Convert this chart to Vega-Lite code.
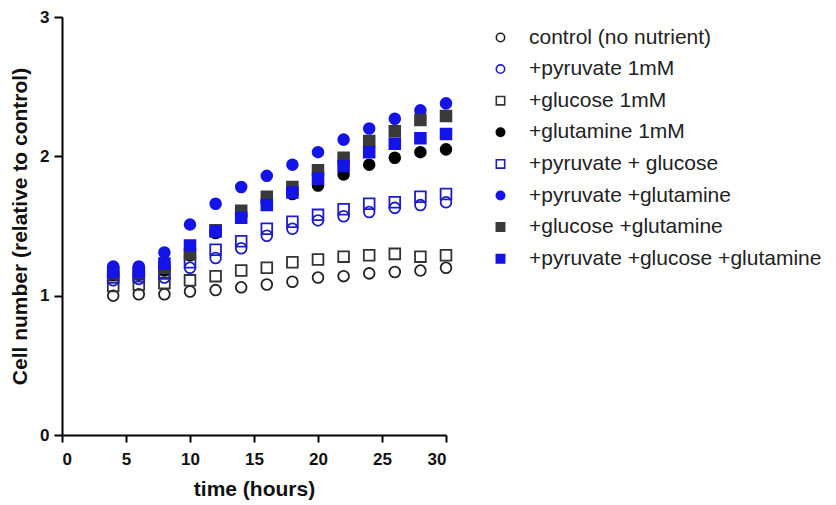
{
  "$schema": "https://vega.github.io/schema/vega-lite/v6.json",
  "width": 384,
  "height": 418,
  "autosize": {"type": "none"},
  "padding": {"left": 62, "top": 17, "right": 390, "bottom": 70},
  "background": "white",
  "config": {
    "view": {"stroke": null},
    "font": "Liberation Sans",
    "axis": {
      "grid": false,
      "domainColor": "#000",
      "domainWidth": 2,
      "tickColor": "#000",
      "tickWidth": 2,
      "tickSize": 7,
      "labelFont": "Liberation Sans",
      "labelFontWeight": "bold",
      "labelFontSize": 17,
      "labelColor": "#111",
      "titleFont": "Liberation Sans",
      "titleFontWeight": "bold",
      "titleFontSize": 21,
      "titleColor": "#111"
    },
    "legend": {
      "labelFont": "Liberation Sans",
      "labelFontSize": 21,
      "labelColor": "#222",
      "labelLimit": 400
    }
  },
  "data": {
    "values": [
      {"t":4,"g":"control (no nutrient)","v":1.00},{"t":6,"g":"control (no nutrient)","v":1.01},{"t":8,"g":"control (no nutrient)","v":1.01},{"t":10,"g":"control (no nutrient)","v":1.03},{"t":12,"g":"control (no nutrient)","v":1.04},{"t":14,"g":"control (no nutrient)","v":1.06},{"t":16,"g":"control (no nutrient)","v":1.08},{"t":18,"g":"control (no nutrient)","v":1.10},{"t":20,"g":"control (no nutrient)","v":1.13},{"t":22,"g":"control (no nutrient)","v":1.14},{"t":24,"g":"control (no nutrient)","v":1.16},{"t":26,"g":"control (no nutrient)","v":1.17},{"t":28,"g":"control (no nutrient)","v":1.18},{"t":30,"g":"control (no nutrient)","v":1.20},
      {"t":4,"g":"+pyruvate 1mM","v":1.11},{"t":6,"g":"+pyruvate 1mM","v":1.12},{"t":8,"g":"+pyruvate 1mM","v":1.13},{"t":10,"g":"+pyruvate 1mM","v":1.20},{"t":12,"g":"+pyruvate 1mM","v":1.27},{"t":14,"g":"+pyruvate 1mM","v":1.34},{"t":16,"g":"+pyruvate 1mM","v":1.43},{"t":18,"g":"+pyruvate 1mM","v":1.48},{"t":20,"g":"+pyruvate 1mM","v":1.54},{"t":22,"g":"+pyruvate 1mM","v":1.57},{"t":24,"g":"+pyruvate 1mM","v":1.60},{"t":26,"g":"+pyruvate 1mM","v":1.63},{"t":28,"g":"+pyruvate 1mM","v":1.65},{"t":30,"g":"+pyruvate 1mM","v":1.67},
      {"t":4,"g":"+glucose 1mM","v":1.07},{"t":6,"g":"+glucose 1mM","v":1.08},{"t":8,"g":"+glucose 1mM","v":1.09},{"t":10,"g":"+glucose 1mM","v":1.11},{"t":12,"g":"+glucose 1mM","v":1.14},{"t":14,"g":"+glucose 1mM","v":1.18},{"t":16,"g":"+glucose 1mM","v":1.20},{"t":18,"g":"+glucose 1mM","v":1.24},{"t":20,"g":"+glucose 1mM","v":1.26},{"t":22,"g":"+glucose 1mM","v":1.28},{"t":24,"g":"+glucose 1mM","v":1.29},{"t":26,"g":"+glucose 1mM","v":1.30},{"t":28,"g":"+glucose 1mM","v":1.28},{"t":30,"g":"+glucose 1mM","v":1.29},
      {"t":4,"g":"+glutamine 1mM","v":1.15},{"t":6,"g":"+glutamine 1mM","v":1.15},{"t":8,"g":"+glutamine 1mM","v":1.18},{"t":10,"g":"+glutamine 1mM","v":1.29},{"t":12,"g":"+glutamine 1mM","v":1.45},{"t":14,"g":"+glutamine 1mM","v":1.57},{"t":16,"g":"+glutamine 1mM","v":1.67},{"t":18,"g":"+glutamine 1mM","v":1.73},{"t":20,"g":"+glutamine 1mM","v":1.79},{"t":22,"g":"+glutamine 1mM","v":1.87},{"t":24,"g":"+glutamine 1mM","v":1.94},{"t":26,"g":"+glutamine 1mM","v":1.99},{"t":28,"g":"+glutamine 1mM","v":2.03},{"t":30,"g":"+glutamine 1mM","v":2.05},
      {"t":4,"g":"+pyruvate + glucose","v":1.13},{"t":6,"g":"+pyruvate + glucose","v":1.14},{"t":8,"g":"+pyruvate + glucose","v":1.16},{"t":10,"g":"+pyruvate + glucose","v":1.24},{"t":12,"g":"+pyruvate + glucose","v":1.33},{"t":14,"g":"+pyruvate + glucose","v":1.39},{"t":16,"g":"+pyruvate + glucose","v":1.48},{"t":18,"g":"+pyruvate + glucose","v":1.53},{"t":20,"g":"+pyruvate + glucose","v":1.58},{"t":22,"g":"+pyruvate + glucose","v":1.62},{"t":24,"g":"+pyruvate + glucose","v":1.66},{"t":26,"g":"+pyruvate + glucose","v":1.67},{"t":28,"g":"+pyruvate + glucose","v":1.71},{"t":30,"g":"+pyruvate + glucose","v":1.73},
      {"t":4,"g":"+pyruvate +glutamine","v":1.21},{"t":6,"g":"+pyruvate +glutamine","v":1.21},{"t":8,"g":"+pyruvate +glutamine","v":1.31},{"t":10,"g":"+pyruvate +glutamine","v":1.51},{"t":12,"g":"+pyruvate +glutamine","v":1.66},{"t":14,"g":"+pyruvate +glutamine","v":1.78},{"t":16,"g":"+pyruvate +glutamine","v":1.86},{"t":18,"g":"+pyruvate +glutamine","v":1.94},{"t":20,"g":"+pyruvate +glutamine","v":2.03},{"t":22,"g":"+pyruvate +glutamine","v":2.12},{"t":24,"g":"+pyruvate +glutamine","v":2.20},{"t":26,"g":"+pyruvate +glutamine","v":2.27},{"t":28,"g":"+pyruvate +glutamine","v":2.33},{"t":30,"g":"+pyruvate +glutamine","v":2.38},
      {"t":4,"g":"+glucose +glutamine","v":1.16},{"t":6,"g":"+glucose +glutamine","v":1.16},{"t":8,"g":"+glucose +glutamine","v":1.20},{"t":10,"g":"+glucose +glutamine","v":1.30},{"t":12,"g":"+glucose +glutamine","v":1.47},{"t":14,"g":"+glucose +glutamine","v":1.61},{"t":16,"g":"+glucose +glutamine","v":1.71},{"t":18,"g":"+glucose +glutamine","v":1.78},{"t":20,"g":"+glucose +glutamine","v":1.90},{"t":22,"g":"+glucose +glutamine","v":1.99},{"t":24,"g":"+glucose +glutamine","v":2.11},{"t":26,"g":"+glucose +glutamine","v":2.18},{"t":28,"g":"+glucose +glutamine","v":2.26},{"t":30,"g":"+glucose +glutamine","v":2.29},
      {"t":4,"g":"+pyruvate +glucose +glutamine","v":1.17},{"t":6,"g":"+pyruvate +glucose +glutamine","v":1.17},{"t":8,"g":"+pyruvate +glucose +glutamine","v":1.23},{"t":10,"g":"+pyruvate +glucose +glutamine","v":1.36},{"t":12,"g":"+pyruvate +glucose +glutamine","v":1.46},{"t":14,"g":"+pyruvate +glucose +glutamine","v":1.56},{"t":16,"g":"+pyruvate +glucose +glutamine","v":1.65},{"t":18,"g":"+pyruvate +glucose +glutamine","v":1.74},{"t":20,"g":"+pyruvate +glucose +glutamine","v":1.84},{"t":22,"g":"+pyruvate +glucose +glutamine","v":1.93},{"t":24,"g":"+pyruvate +glucose +glutamine","v":2.03},{"t":26,"g":"+pyruvate +glucose +glutamine","v":2.09},{"t":28,"g":"+pyruvate +glucose +glutamine","v":2.13},{"t":30,"g":"+pyruvate +glucose +glutamine","v":2.16}
    ]
  },
  "mark": {"type": "point", "filled": false, "size": 115, "strokeWidth": 1.8, "opacity": 1},
  "encoding": {
    "x": {
      "field": "t", "type": "quantitative", "title": "time (hours)",
      "scale": {"domain": [0, 30], "nice": false, "zero": true},
      "axis": {"values": [0, 5, 10, 15, 20, 25, 30], "labelPadding": 9, "titlePadding": 11}
    },
    "y": {
      "field": "v", "type": "quantitative", "title": "Cell number (relative to control)",
      "scale": {"domain": [0, 3], "nice": false},
      "axis": {"values": [0, 1, 2, 3], "tickSize": 8, "labelPadding": 5, "titlePadding": 9}
    },
    "shape": {
      "field": "g", "type": "nominal",
      "scale": {
        "domain": ["control (no nutrient)", "+pyruvate 1mM", "+glucose 1mM", "+glutamine 1mM", "+pyruvate + glucose", "+pyruvate +glutamine", "+glucose +glutamine", "+pyruvate +glucose +glutamine"],
        "range": ["circle", "circle", "square", "circle", "square", "circle", "square", "square"]
      },
      "legend": {"title": null, "orient": "none", "legendX": 428, "legendY": 10, "symbolSize": 70, "symbolStrokeWidth": 1.6, "rowPadding": 9.6, "labelOffset": 18}
    },
    "fill": {
      "field": "g", "type": "nominal",
      "scale": {
        "domain": ["control (no nutrient)", "+pyruvate 1mM", "+glucose 1mM", "+glutamine 1mM", "+pyruvate + glucose", "+pyruvate +glutamine", "+glucose +glutamine", "+pyruvate +glucose +glutamine"],
        "range": ["transparent", "transparent", "transparent", "#000000", "transparent", "#1414e6", "#3a3a3a", "#1414e6"]
      },
      "legend": {"title": null, "orient": "none", "legendX": 428, "legendY": 10, "symbolSize": 70, "symbolStrokeWidth": 1.6, "rowPadding": 9.6, "labelOffset": 18}
    },
    "stroke": {
      "field": "g", "type": "nominal",
      "scale": {
        "domain": ["control (no nutrient)", "+pyruvate 1mM", "+glucose 1mM", "+glutamine 1mM", "+pyruvate + glucose", "+pyruvate +glutamine", "+glucose +glutamine", "+pyruvate +glucose +glutamine"],
        "range": ["#222222", "#1c1cc8", "#333333", "#000000", "#1c1cc8", "#1414e6", "#3a3a3a", "#1414e6"]
      },
      "legend": {"title": null, "orient": "none", "legendX": 428, "legendY": 10, "symbolSize": 70, "symbolStrokeWidth": 1.6, "rowPadding": 9.6, "labelOffset": 18}
    },
    "order": {"field": "t", "type": "quantitative"}
  }
}
